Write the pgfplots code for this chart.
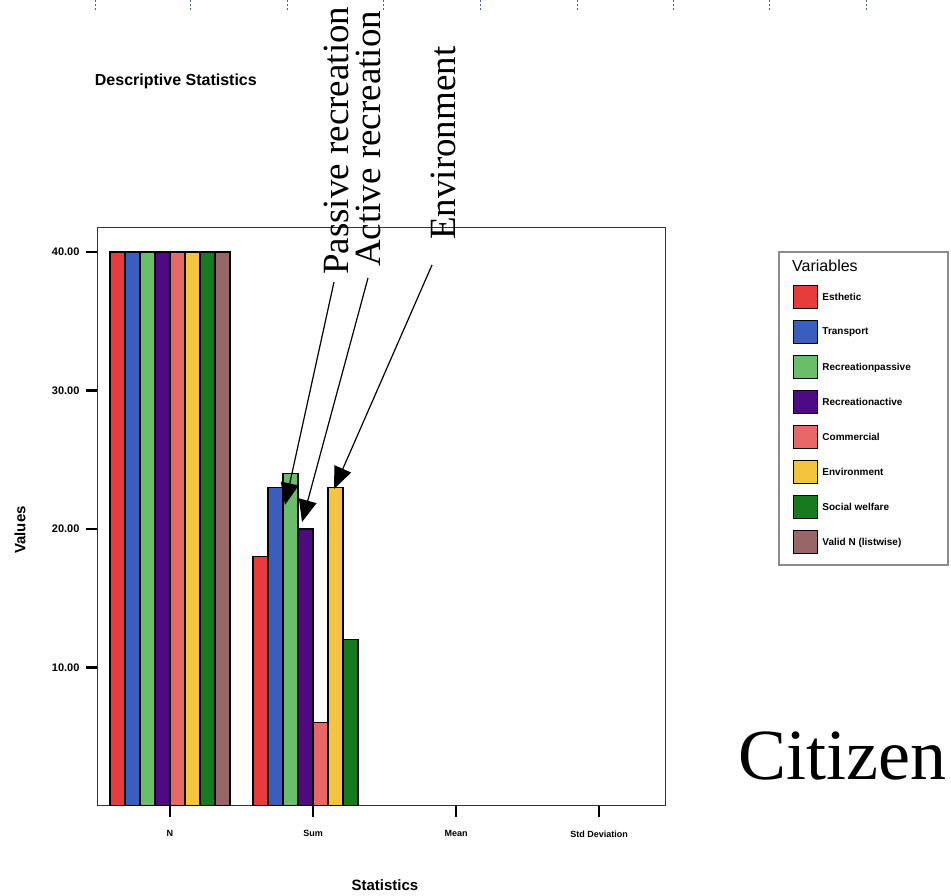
\documentclass[border=0pt]{standalone}
\usepackage{pgfplots}
\pgfplotsset{compat=1.18}
\usepackage{fontspec}
\setmainfont{Liberation Serif}
\newfontfamily\chartfont{Liberation Sans}
\usetikzlibrary{arrows.meta}
\definecolor{cEsth}{RGB}{232,60,60}
\definecolor{cTrans}{RGB}{58,94,190}
\definecolor{cPass}{RGB}{106,190,106}
\definecolor{cAct}{RGB}{78,10,130}
\definecolor{cComm}{RGB}{232,104,104}
\definecolor{cEnv}{RGB}{245,196,62}
\definecolor{cSoc}{RGB}{24,122,30}
\definecolor{cValid}{RGB}{152,102,102}
\definecolor{ruler}{RGB}{70,100,150}
\pgfplotsset{sqlegend/.style={legend image code/.code={\draw[##1,line width=1.2bp] (0bp,-11.5bp) rectangle (24bp,11.5bp);}}}
\begin{document}
\begin{tikzpicture}[x=1bp,y=1bp]
\useasboundingbox (0,0) rectangle (951,896);
% ruler marks at top
\foreach \xx in {95,190,287,383,480,577,673,769,866}{
  \draw[ruler, line width=1bp, dash pattern=on 2bp off 2bp] (\xx,896) -- (\xx,885);
}
\begin{axis}[
  at={(97bp,90bp)}, anchor=south west,
  scale only axis, width=568bp, height=578bp,
  xmin=-0.51, xmax=3.46, ymin=0, ymax=41.73,
  ybar=0pt, bar width=15bp,
  axis line style={black!80, line width=1bp},
  xtick={0,1,2,3}, xticklabels={N,Sum,Mean,Std Deviation},
  ytick={10,20,30,40},
  xtick pos=bottom, ytick pos=left,
  tick align=outside,
  major tick length=11bp,
  every tick/.style={black, line width=2.5bp},
  /pgf/number format/.cd, fixed, fixed zerofill, precision=2, assume math mode=true,
  /pgfplots/.cd,
  yticklabel style={font=\chartfont\bfseries\fontsize{11bp}{13bp}\selectfont, xshift=-3bp},
  xticklabel style={font=\chartfont\bfseries\fontsize{9bp}{11bp}\selectfont, yshift=-10bp},
  title={Descriptive Statistics},
  title style={font=\chartfont\bfseries\fontsize{16bp}{18bp}\selectfont, at={(axis description cs:-0.004,1.244)}, anchor=west, inner sep=0pt},
  xlabel={Statistics},
  xlabel style={font=\chartfont\bfseries\fontsize{15bp}{17bp}\selectfont, at={(axis description cs:0.507,-0.1367)}, anchor=center, inner sep=0pt},
  ylabel={Values},
  ylabel style={font=\chartfont\bfseries\fontsize{15bp}{17bp}\selectfont, at={(axis description cs:-0.1356,0.4775)}, anchor=center, inner sep=0pt},
  legend style={draw=none, fill=none, at={(1.2254,0.9014)}, anchor=north west, inner sep=0pt, row sep=10.8bp, column sep=2bp,
    font=\chartfont\bfseries\fontsize{10bp}{12bp}\selectfont, nodes={inner xsep=2bp}},
  legend cell align=left,
]
\addplot[fill=cEsth, draw=black, line width=1.2bp, sqlegend] coordinates {(0,40) (1,18)};
\addplot[fill=cTrans, draw=black, line width=1.2bp, sqlegend] coordinates {(0,40) (1,23)};
\addplot[fill=cPass, draw=black, line width=1.2bp, sqlegend] coordinates {(0,40) (1,24)};
\addplot[fill=cAct, draw=black, line width=1.2bp, sqlegend] coordinates {(0,40) (1,20)};
\addplot[fill=cComm, draw=black, line width=1.2bp, sqlegend] coordinates {(0,40) (1,6)};
\addplot[fill=cEnv, draw=black, line width=1.2bp, sqlegend] coordinates {(0,40) (1,23)};
\addplot[fill=cSoc, draw=black, line width=1.2bp, sqlegend] coordinates {(0,40) (1,12)};
\addplot[fill=cValid, draw=black, line width=1.2bp, sqlegend] coordinates {(0,40)};
\legend{Esthetic, Transport, Recreationpassive, Recreationactive, Commercial, Environment, Social welfare, Valid N (listwise)}
\end{axis}
% legend frame and title
\draw[black!45, line width=1.5bp] (779,644) rectangle (948,331);
\node[anchor=west, inner sep=0pt, font=\chartfont\fontsize{16bp}{18bp}\selectfont] at (792,630) {Variables};
% annotations
\node[rotate=90, anchor=base west, inner sep=0pt, font=\fontsize{37bp}{40bp}\selectfont] at (348,621) {Passive recreation};
\node[rotate=90, anchor=base west, inner sep=0pt, font=\fontsize{37bp}{40bp}\selectfont] at (380,629) {Active recreation};
\node[rotate=90, anchor=base west, inner sep=0pt, font=\fontsize{37bp}{40bp}\selectfont] at (455,656) {Environment};
\draw[line width=1.2bp, -{Triangle[length=22bp,width=18bp]}] (334,614) -- (285,391);
\draw[line width=1.2bp, -{Triangle[length=22bp,width=18bp]}] (368,618) -- (302,374);
\draw[line width=1.2bp, -{Triangle[length=22bp,width=18bp]}] (432,631) -- (334,407);
\node[anchor=base west, inner sep=0pt, font=\fontsize{72bp}{76bp}\selectfont] at (738,116) {Citizen};
\end{tikzpicture}
\end{document}
